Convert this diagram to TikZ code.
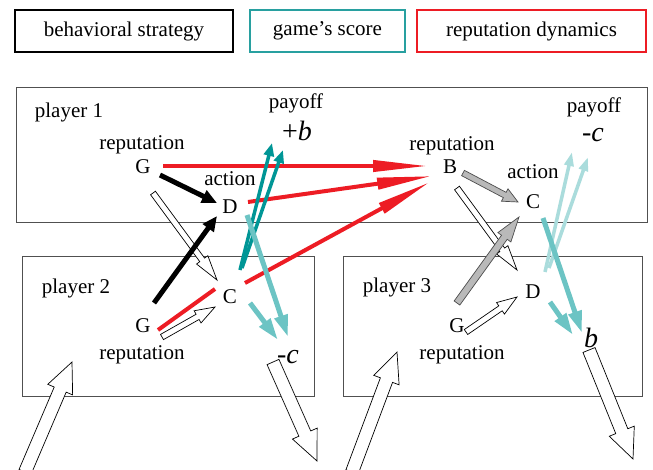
\documentclass[tikz,border=0pt]{standalone}
\usepackage{fontspec}
\setmainfont{Liberation Serif}
\newfontfamily\timesf{Liberation Serif}
\usetikzlibrary{arrows.meta,calc}
\definecolor{myred}{RGB}{237,28,36}
\definecolor{dteal}{RGB}{0,150,150}
\definecolor{lteal}{RGB}{108,196,196}
\definecolor{fteal}{RGB}{170,220,220}
\definecolor{legteal}{RGB}{40,160,160}
\definecolor{boxgray}{RGB}{80,80,80}
\newcommand\blockarr[6]{%
  \path[#1] ($(#2)!#4!90:(#3)$)
    -- ($($(#3)!#6!(#2)$)!#4!90:(#3)$)
    -- ($($(#3)!#6!(#2)$)!#5!90:(#3)$)
    -- (#3)
    -- ($($(#3)!#6!(#2)$)!#5!-90:(#3)$)
    -- ($($(#3)!#6!(#2)$)!#4!-90:(#3)$)
    -- ($(#2)!#4!-90:(#3)$) -- cycle;}
\tikzset{
  txt/.style={font=\timesf\fontsize{21}{23}\selectfont, inner sep=0pt},
  sym/.style={font=\timesf\fontsize{28}{30}\selectfont, inner sep=0pt},
  legbox/.style={draw, line width=2.5pt, minimum height=42pt, inner sep=0pt, font=\timesf\fontsize{21}{23}\selectfont},
  playerbox/.style={draw=boxgray, line width=1pt},
  bstrat/.style={draw=black, line width=5pt, -{Triangle[length=15pt,width=13pt]}},
  repdyn/.style={draw=myred, line width=4pt, -{Triangle[length=55pt,width=11pt]}},
  repline/.style={draw=myred, line width=4pt},
  score/.style={draw=dteal, line width=3.5pt, -{Triangle[length=13pt,width=10pt]}},
  lscore/.style={draw=lteal, line width=5pt, -{Triangle[length=22pt,width=13pt]}},
  fscore/.style={draw=fteal, line width=3.5pt, -{Triangle[length=14pt,width=9pt]}},
  whitearr/.style={draw=black, fill=white, line width=0.7pt, line join=miter},
  grayarr/.style={draw=black!70, fill=gray!55, line width=0.7pt, line join=miter},
}
\begin{document}
\begin{tikzpicture}[x=1pt,y=-1pt]
\useasboundingbox (0,0) rectangle (653,469);
\clip (0,0) rectangle (653,469);
\fill[white] (0,0) rectangle (653,469);
% legend
\node[legbox, draw=black, minimum width=218pt] (leg1) at (124,31) {behavioral strategy};
\node[legbox, draw=legteal, minimum width=155pt] (leg2) at (327.5,31) {game’s score};
\node[legbox, draw=myred, minimum width=229pt] (leg3) at (531.5,31) {reputation dynamics};
% player boxes
\draw[playerbox] (16,87) rectangle (647,222);
\draw[playerbox] (22,256) rectangle (314,396);
\draw[playerbox] (343,256) rectangle (642,396);
% texts
\node[txt] (p1) at (69,112) {player 1};
\node[txt] (rep1) at (142,145) {reputation};
\node[txt] (G1) at (143,167) {G};
\node[txt] (act1) at (230,179) {action};
\node[txt] (D1) at (230,207) {D};
\node[txt] (pay1) at (296,103) {payoff};
\node[sym] (plusb) at (297,131) {+\textit{b}};
\node[txt] (repB) at (452,146) {reputation};
\node[txt] (B) at (450,167) {B};
\node[txt] (actC) at (533,172) {action};
\node[txt] (C1) at (533,202) {C};
\node[txt] (pay2) at (594,107) {payoff};
\node[sym] (minc1) at (593,135) {-\textit{c}};
\node[txt] (p2) at (76,288) {player 2};
\node[txt] (C2) at (230,297) {C};
\node[txt] (G2) at (143,326) {G};
\node[txt] (rep2) at (142,355) {reputation};
\node[sym] (minc2) at (288,357) {-\textit{c}};
\node[txt] (p3) at (397,287) {player 3};
\node[txt] (D3) at (533,292) {D};
\node[txt] (G3) at (457,326) {G};
\node[txt] (rep3) at (462,355) {reputation};
\node[sym] (b3) at (591,338) {\textit{b}};
% coordinates
\coordinate (a1s) at (160,175); \coordinate (a1e) at (217,203);
\coordinate (a2s) at (154,303); \coordinate (a2e) at (217,216);
\coordinate (r1s) at (163,166); \coordinate (r1e) at (428,166);
\coordinate (r2s) at (248,202); \coordinate (r2e) at (432,176);
\coordinate (r3s) at (245,283); \coordinate (r3e) at (430,182);
\coordinate (r4s) at (158,330); \coordinate (r4e) at (215,289);
\coordinate (t1s) at (240,270); \coordinate (t1e) at (272,143);
\coordinate (t2s) at (242,268); \coordinate (t2e) at (283,150);
\coordinate (l1s) at (247,215); \coordinate (l1e) at (288,337);
\coordinate (l2s) at (250,303); \coordinate (l2e) at (278,340);
\coordinate (l3s) at (543,218); \coordinate (l3e) at (582,333);
\coordinate (l4s) at (550,302); \coordinate (l4e) at (573,335);
\coordinate (f1s) at (545,272); \coordinate (f1e) at (572,152);
\coordinate (f2s) at (549,268); \coordinate (f2e) at (588,157);
\coordinate (g1s) at (463,173); \coordinate (g1e) at (518,202);
\coordinate (g2s) at (457,303); \coordinate (g2e) at (519,217);
\coordinate (w1s) at (153,193); \coordinate (w1e) at (217,280);
\coordinate (w2s) at (162,337); \coordinate (w2e) at (215,307);
\coordinate (w3s) at (457,188); \coordinate (w3e) at (517,270);
\coordinate (w4s) at (466,332); \coordinate (w4e) at (517,297);
\coordinate (k1s) at (25,472); \coordinate (k1e) at (72,362);
\coordinate (k2s) at (273,362); \coordinate (k2e) at (317,461);
\coordinate (k3s) at (352,472); \coordinate (k3e) at (397,352);
\coordinate (k4s) at (589,350); \coordinate (k4e) at (633,459);
% faded score arrows
\draw[fscore] (f1s) -- (f1e);
\draw[fscore] (f2s) -- (f2e);
% white / gray block arrows
\blockarr{whitearr}{w1s}{w1e}{3pt}{7pt}{25pt}
\blockarr{whitearr}{w3s}{w3e}{3pt}{7pt}{25pt}
\blockarr{grayarr}{g1s}{g1e}{3pt}{7pt}{15pt}
\blockarr{grayarr}{g2s}{g2e}{3.5pt}{8pt}{25pt}
\blockarr{whitearr}{w4s}{w4e}{3pt}{7pt}{20pt}
% black strategy arrows
\draw[bstrat] (a1s) -- (a1e);
\draw[bstrat] (a2s) -- (a2e);
% red reputation arrows
\draw[repdyn] (r1s) -- (r1e);
\draw[repdyn] (r2s) -- (r2e);
\draw[repdyn] (r3s) -- (r3e);
\draw[repline] (r4s) -- (r4e);
\blockarr{whitearr}{w2s}{w2e}{3pt}{7pt}{20pt}
% teal score arrows
\draw[score] (t1s) -- (t1e);
\draw[score] (t2s) -- (t2e);
\draw[lscore] (l1s) -- (l1e);
\draw[lscore] (l2s) -- (l2e);
\draw[lscore] (l3s) -- (l3e);
\draw[lscore] (l4s) -- (l4e);
% big white arrows
\blockarr{whitearr}{k1s}{k1e}{6.5pt}{13.5pt}{30pt}
\blockarr{whitearr}{k2s}{k2e}{6.5pt}{13.5pt}{30pt}
\blockarr{whitearr}{k3s}{k3e}{6.5pt}{13.5pt}{30pt}
\blockarr{whitearr}{k4s}{k4e}{6.5pt}{13.5pt}{30pt}
\end{tikzpicture}
\end{document}
